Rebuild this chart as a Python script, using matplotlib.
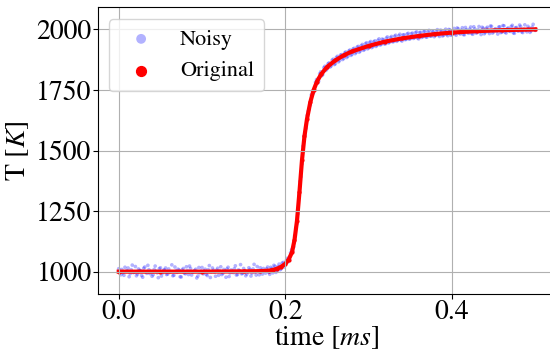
import numpy as np
import matplotlib
matplotlib.use("Agg")
import matplotlib.pyplot as plt

# original (clean) temperature curve
t_orig = [0.0, 0.05, 0.1, 0.15, 0.17, 0.18, 0.185, 0.19, 0.195, 0.2, 0.204, 0.208,
          0.211, 0.214, 0.217, 0.22, 0.223, 0.226, 0.23, 0.234, 0.238, 0.243, 0.25,
          0.26, 0.27, 0.28, 0.3, 0.32, 0.34, 0.36, 0.38, 0.4, 0.43, 0.46, 0.5]
T_orig = [1000, 1000, 1000, 1001, 1002, 1004, 1007, 1012, 1020, 1032, 1050, 1080,
          1130, 1210, 1330, 1460, 1560, 1630, 1700, 1750, 1785, 1815, 1845,
          1872, 1893, 1909, 1932, 1950, 1963, 1973, 1981, 1987, 1993, 1997, 2000]

# noisy samples, set A on grid 0, 0.0025, ... 0.5 ms
T_noisy_a = [
    1012, 987, 995, 1018, 1003, 979, 1008, 996, 1021, 990,
    1005, 984, 1014, 999, 1026, 992, 981, 1009, 1002, 975,
    1016, 994, 1007, 988, 1011, 1000, 983, 1019, 997, 1006,
    978, 1013, 991, 1004, 1023, 986, 1001, 1010, 982, 995,
    1017, 1003, 989, 1008, 976, 1015, 998, 1006, 985, 1020,
    993, 1002, 1011, 980, 1007, 996, 1024, 988, 1004, 991,
    1013, 983, 1000, 1009, 994, 1030, 986, 1005, 1016, 990,
    1003, 1012, 997, 1018, 995, 1022, 1004, 1031, 1012, 1038,
    1027, 1055, 1049, 1090, 1102, 1180, 1238, 1372, 1445, 1560,
    1592, 1662, 1688, 1745, 1752, 1793, 1786, 1825, 1814, 1848,
    1837, 1862, 1849, 1877, 1858, 1889, 1871, 1896, 1880, 1907,
    1889, 1915, 1897, 1922, 1905, 1930, 1911, 1938, 1917, 1945,
    1924, 1950, 1929, 1953, 1934, 1961, 1938, 1958, 1940, 1969,
    1947, 1971, 1950, 1976, 1955, 1980, 1952, 1978, 1959, 1984,
    1962, 1985, 1966, 1990, 1961, 1988, 1970, 1993, 1968, 1996,
    1972, 1990, 1975, 1999, 1971, 1995, 1976, 2001, 1974, 1998,
    1979, 2004, 1976, 2003, 1981, 2007, 1978, 1999, 1984, 2010,
    1980, 2002, 1986, 2012, 1979, 2005, 1987, 2009, 1983, 2013,
    1990, 2003, 1981, 2011, 1989, 2015, 1985, 2006, 1992, 2017,
    1984, 2008, 1993, 2012, 1987, 2019, 1990, 2005, 1994, 2021,
    1996,
]
# set B, half a step later: 0.00125, 0.00375, ... 0.49875 ms
T_noisy_b = [
    996, 1009, 985, 1001, 1015, 992, 1027, 998, 983, 1011,
    1004, 977, 1019, 993, 1008, 1001, 987, 1023, 995, 1012,
    982, 1006, 1015, 990, 999, 1028, 985, 1003, 1010, 979,
    1007, 994, 1020, 988, 1013, 997, 1005, 974, 1017, 1002,
    991, 1010, 984, 1025, 999, 1006, 981, 1014, 1003, 988,
    1009, 977, 1018, 995, 1001, 1012, 986, 1007, 1029, 993,
    1004, 990, 1016, 982, 1011, 998, 1021, 987, 1006, 1013,
    994, 1019, 989, 1013, 1026, 997, 1021, 1008, 1035, 1019,
    1046, 1041, 1078, 1083, 1148, 1196, 1315, 1392, 1518, 1566,
    1645, 1671, 1730, 1738, 1782, 1779, 1817, 1809, 1842, 1831,
    1858, 1845, 1873, 1855, 1884, 1866, 1894, 1876, 1903, 1884,
    1911, 1893, 1919, 1900, 1927, 1906, 1933, 1914, 1941, 1920,
    1946, 1925, 1949, 1930, 1955, 1936, 1960, 1941, 1964, 1944,
    1966, 1949, 1972, 1951, 1974, 1956, 1977, 1958, 1981, 1960,
    1982, 1963, 1986, 1965, 1987, 1967, 1991, 1969, 1989, 1973,
    1994, 1970, 1992, 1977, 1997, 1973, 1995, 1979, 2000, 1976,
    1995, 1982, 2006, 1985, 1997, 1979, 2008, 1988, 2001, 1983,
    2011, 1986, 1998, 1990, 2009, 1982, 2004, 1991, 2014, 1985,
    2000, 1993, 2010, 1987, 2016, 1989, 2003, 1994, 2012, 1986,
    2007, 1995, 2018, 1990, 2001, 1997, 2013, 1988, 2009, 1999,
]
t_noisy_a = np.linspace(0, 0.5, len(T_noisy_a))
t_noisy_b = np.linspace(0.00125, 0.49875, len(T_noisy_b))
t_noisy = np.concatenate([t_noisy_a, t_noisy_b])
T_noisy = np.concatenate([T_noisy_a, T_noisy_b])

plt.rcParams['font.family'] = ['STIXGeneral', 'DejaVu Serif']
plt.rcParams['mathtext.fontset'] = 'stix'

fig = plt.figure(figsize=(5.5, 3.52), dpi=100)
ax = fig.add_axes([0.178, 0.165, 0.833, 0.814])

# scatter collections sit under the grid lines, like the reference
ax.scatter(t_noisy, T_noisy, s=7, color='blue', alpha=0.3, edgecolors='none',
           label='Noisy', zorder=1)
ax.plot(t_orig, T_orig, color='red', lw=3, zorder=1.1)
ax.scatter(t_orig, T_orig, s=4, color='red', label='Original', zorder=1.1)

ax.set_xlim(-0.025, 0.525)
ax.set_ylim(908, 2091)
ax.set_xticks([0.0, 0.2, 0.4])
ax.set_yticks([1000, 1250, 1500, 1750, 2000])
ax.tick_params(labelsize=20, pad=1)
ax.grid(True, color='#b0b0b0', lw=0.8)
ax.set_xlabel(r'time [$ms$]', fontsize=20, labelpad=-1)
ax.set_ylabel(r'T [$K$]', fontsize=20)

leg = ax.legend(loc='upper left', fontsize=16, borderpad=0.45,
                handletextpad=0.75, borderaxespad=0,
                bbox_to_anchor=(0.024, 0.959))
for h in leg.legend_handles:
    h.set_sizes([50])

fig.savefig('out.png', dpi=100)
